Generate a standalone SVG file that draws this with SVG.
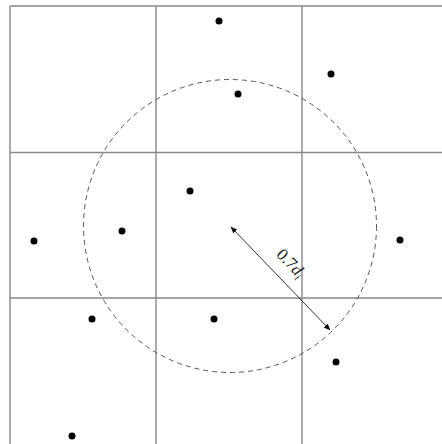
<svg xmlns="http://www.w3.org/2000/svg" width="442" height="444" viewBox="0 0 442 444">
<style>
.grid{stroke:#888;stroke-width:1.4;fill:none}
.dot{fill:#000}
.circ{stroke:#555;stroke-width:1;fill:none;stroke-dasharray:5,4}
.arr{stroke:#333;stroke-width:1}
.lbl{font-family:"Liberation Serif",serif;font-size:17px;fill:#222}
</style>
<defs>
<marker id="ah" viewBox="0 0 10 10" refX="9" refY="5" markerWidth="7" markerHeight="7" orient="auto-start-reverse">
<path d="M0,1 L10,5 L0,9 Z" fill="#111"/>
</marker>
</defs>
<g id="grid">
<path class="grid" d="M10,6 H448 M10,152.5 H448 M10,298 H448 M10,6 V450 M156,6 V450 M302,6 V450"/>
</g>
<g id="circle"><circle class="circ" cx="230" cy="226" r="146.5"/></g>
<g id="points">
<circle class="dot" cx="219" cy="21" r="3.5"/>
<circle class="dot" cx="331" cy="74" r="3.5"/>
<circle class="dot" cx="238" cy="94" r="3.5"/>
<circle class="dot" cx="190" cy="191" r="3.5"/>
<circle class="dot" cx="122" cy="231" r="3.5"/>
<circle class="dot" cx="34" cy="241" r="3.5"/>
<circle class="dot" cx="400" cy="240" r="3.5"/>
<circle class="dot" cx="92" cy="319" r="3.5"/>
<circle class="dot" cx="214" cy="319" r="3.5"/>
<circle class="dot" cx="336" cy="362" r="3.5"/>
<circle class="dot" cx="72" cy="436" r="3.5"/>
</g>
<g id="connectors">
<line class="arr" x1="231" y1="227" x2="330" y2="330" marker-start="url(#ah)" marker-end="url(#ah)"/>
</g>
<g id="label">
<text class="lbl" transform="translate(287,267) rotate(46)" text-anchor="middle">0.7<tspan font-style="italic">d</tspan><tspan font-style="italic" font-size="11" dy="3">i</tspan></text>
</g>
</svg>
